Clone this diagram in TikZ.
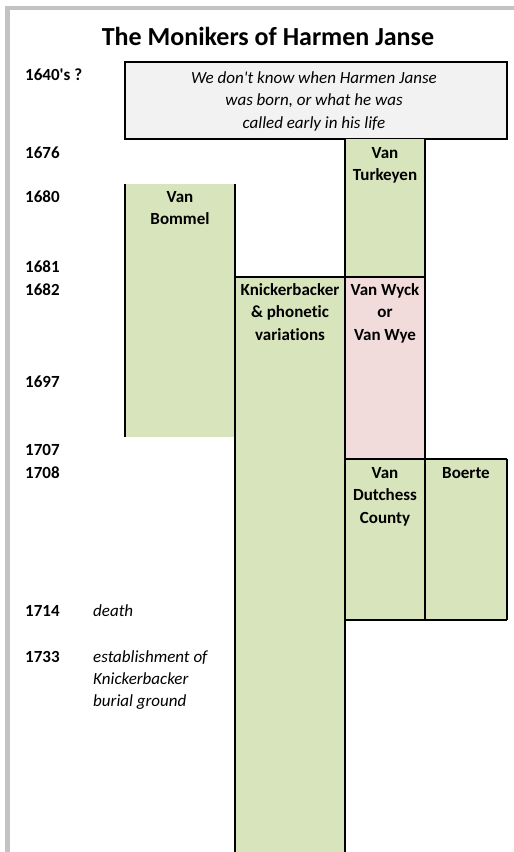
\documentclass[tikz,border=0pt]{standalone}
\usepackage{fontspec}
\setmainfont{Carlito}[Ligatures=NoCommon]

\definecolor{namegreen}{HTML}{D8E4BC}
\definecolor{namepink}{HTML}{F2DCDB}
\definecolor{notegray}{HTML}{F2F2F2}
\definecolor{framegray}{HTML}{C3C3C3}

\tikzset{
    year/.style={anchor=base west, inner sep=0pt, font=\bfseries\fontsize{17}{22.7}\selectfont},
    moniker/.style={anchor=base, inner sep=0pt, align=center, font=\bfseries\fontsize{17}{22.7}\selectfont},
    remark/.style={anchor=base west, inner sep=0pt, align=left, font=\itshape\fontsize{17}{22.2}\selectfont},
    border/.style={line width=1.1pt}
}

\begin{document}
\begin{tikzpicture}[x=1pt, y=-1pt]
    \useasboundingbox (0,0) rectangle (514,852);

    % the grey frame at the top and on the left
    \draw[framegray, line width=4.5pt] (7.5,852) -- (7.5,8) -- (514,8);

    % The title
    \node[anchor=base, inner sep=0pt, font=\bfseries\fontsize{26}{30}\selectfont] (title) at (268,45) {The Monikers of Harmen Janse};

    % the box with the note on the early years (base = last line)
    \draw[border, fill=notegray] (125,62) rectangle (507,139);
    \node[anchor=base, inner sep=0pt, align=center, font=\itshape\fontsize{17}{22.7}\selectfont] (unknown) at (314,128.4)
        {We don\textquotesingle t know when Harmen Janse\\was born, or what he was\\called early in his life};

    % the green and pink columns
    \fill[namegreen] (125,184) rectangle (235,437);
    \fill[namegreen] (345,139) rectangle (425,277);
    \fill[namegreen] (235,277) rectangle (345,852);
    \fill[namepink] (345,277) rectangle (425,459);
    \fill[namegreen] (345,459) rectangle (507,620);

    % the vertical lines of the columns
    \draw[border] (125,184) -- (125,437);
    \draw[border] (235,184) -- (235,852);
    \draw[border] (345,139) -- (345,852);
    \draw[border] (425,139) -- (425,620);
    \draw[border] (507,459) -- (507,620);
    % the horizontal lines of the columns
    \draw[border] (235,277) -- (425,277);
    \draw[border] (345,459) -- (507,459);
    \draw[border] (345,620) -- (507,620);

    % The names in the columns (placed at the baseline of the last line)
    \node[moniker] (bommel) at (180,224.7) {Van\\Bommel};
    \node[moniker] (turkeyen) at (385,180.7) {Van\\Turkeyen};
    \node[moniker] (knicker) at (290,340.4) {Knickerbacker\\\& phonetic\\variations};
    \node[moniker] (wyck) at (385,340.4) {Van Wyck\\or\\Van Wye};
    \node[moniker] (dutchess) at (385,523.4) {Van\\Dutchess\\County};
    \node[moniker] (boerte) at (466,478) {Boerte};

    % The years on the left
    \node[year] (y1640) at (25,80) {1640\textquotesingle s ?};
    \node[year] (y1676) at (25,158) {1676};
    \node[year] (y1680) at (25,202) {1680};
    \node[year] (y1681) at (25,272) {1681};
    \node[year] (y1682) at (25,295) {1682};
    \node[year] (y1697) at (25,387) {1697};
    \node[year] (y1707) at (25,455) {1707};
    \node[year] (y1708) at (25,478) {1708};
    \node[year] (y1714) at (25,616) {1714};
    \node[year] (y1733) at (25,662) {1733};

    % The remarks beside the years
    \node[remark] (death) at (93,616) {death};
    \node[remark] (burial) at (93,706.4) {establishment of\\Knickerbacker\\burial ground};
\end{tikzpicture}
\end{document}
